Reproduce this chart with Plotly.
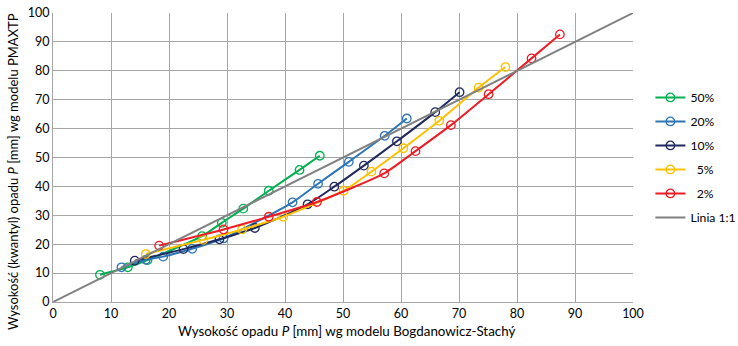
import plotly.graph_objects as go

x_50 = [8.1, 12.9, 16.3, 25.7, 29.1, 32.8, 37.2, 42.5, 46.0]
y_50 = [9.4, 12.0, 14.5, 22.8, 27.4, 32.3, 38.5, 45.7, 50.6]

x_20 = [11.8, 16.0, 19.0, 24.0, 29.4, 41.3, 45.7, 51.0, 57.2, 61.0]
y_20 = [12.0, 14.6, 15.7, 18.4, 22.0, 34.5, 40.9, 48.5, 57.5, 63.5]

x_10 = [14.1, 22.5, 28.7, 34.8, 43.9, 48.5, 53.6, 59.3, 65.9, 70.1]
y_10 = [14.3, 18.3, 21.7, 25.6, 33.8, 39.9, 47.2, 55.6, 65.7, 72.6]

x_5 = [16.0, 25.9, 32.6, 39.7, 50.1, 54.9, 60.4, 66.6, 73.4, 78.0]
y_5 = [16.6, 21.5, 25.1, 29.5, 38.5, 45.1, 53.2, 62.7, 74.2, 81.3]

x_2 = [18.3, 29.4, 37.2, 45.5, 57.1, 62.5, 68.6, 75.1, 82.5, 87.4]
y_2 = [19.5, 25.1, 29.5, 34.6, 44.5, 52.2, 61.2, 71.9, 84.3, 92.6]

x_11 = [0, 100]
y_11 = [0, 100]

x_title = "Wysokość opadu <i>P</i> [mm] wg modelu Bogdanowicz-Stachý"
y_title = "Wysokość (kwantyl) opadu <i>P</i> [mm] wg modelu PMAXTP"

series = [
    ("50%", x_50, y_50, "#00B050"),
    ("20%", x_20, y_20, "#2E75B6"),
    ("10%", x_10, y_10, "#1F2A5E"),
    ("  5%", x_5, y_5, "#FFC000"),
    ("  2%", x_2, y_2, "#EE1C25"),
]

FONT = "Lato, 'Open Sans', sans-serif"

fig = go.Figure()
for i, (name, xs, ys, col) in enumerate(series):
    fig.add_trace(go.Scatter(
        x=xs, y=ys, name=name, mode="lines+markers", legendgroup=f"g{i}",
        line=dict(color=col, width=2, shape="spline", smoothing=0.6),
        marker=dict(symbol="circle-open", size=8.5, color=col, line=dict(width=1.3, color=col)),
    ))
fig.add_trace(go.Scatter(
    x=x_11, y=y_11, name="Linia 1:1", mode="lines", legendgroup="g9",
    line=dict(color="#808080", width=2),
))

axis_common = dict(
    range=[0, 100], dtick=10, showgrid=True, gridcolor="#A6A6A6", gridwidth=1,
    showline=True, linecolor="#A6A6A6", linewidth=1, zeroline=False,
    ticks="", tickfont=dict(family=FONT, size=12.5, color="#000000"),
    fixedrange=True, automargin=False,
)

fig.update_layout(
    width=738, height=346,
    margin=dict(l=53, r=105, t=13, b=44, autoexpand=False),
    paper_bgcolor="white", plot_bgcolor="white",
    font=dict(family=FONT, size=12.5, color="#000000"),
    xaxis=dict(**axis_common),
    yaxis=dict(**axis_common),
    legend=dict(x=1.03, y=0.758, xanchor="left", yanchor="top",
                font=dict(family=FONT, size=12.2), bgcolor="rgba(0,0,0,0)",
                tracegroupgap=5),
    showlegend=True,
    annotations=[
        dict(text=x_title, xref="paper", yref="paper", x=0.507, y=-0.100,
             xanchor="center", yanchor="middle", showarrow=False,
             font=dict(family=FONT, size=13.4)),
        dict(text=y_title, xref="paper", yref="paper", x=-0.069, y=0.453,
             xanchor="center", yanchor="middle", showarrow=False, textangle=-90,
             font=dict(family=FONT, size=13.0)),
    ],
)

fig.write_html("out.html")
